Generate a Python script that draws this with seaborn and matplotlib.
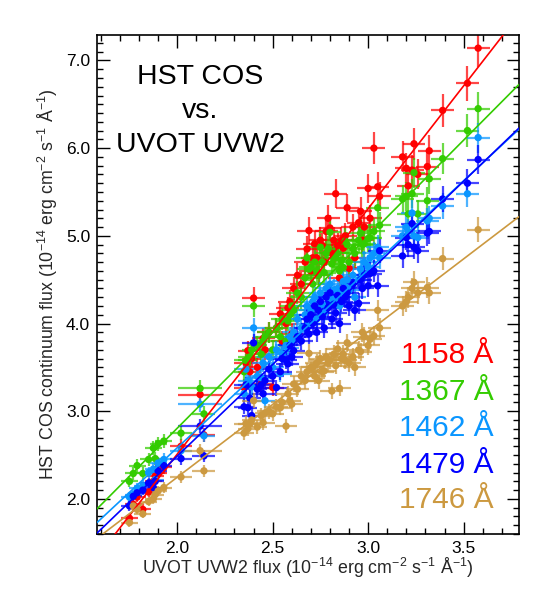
import numpy as np
import pandas as pd
import matplotlib
matplotlib.use("Agg")
import matplotlib.pyplot as plt
import seaborn as sns
from matplotlib.ticker import MultipleLocator, FormatStrFormatter

# ---- data ----
uvw2 = [1.75, 1.77, 1.79, 1.82, 1.85, 1.875, 1.885, 1.90, 1.93, 2.02, 2.12, 2.14,
        2.35, 2.36, 2.37, 2.38, 2.39, 2.40, 2.42, 2.44, 2.45, 2.46, 2.48, 2.50,
        2.52, 2.54, 2.55, 2.57, 2.58, 2.59, 2.60, 2.61, 2.63, 2.65, 2.67, 2.68,
        2.69, 2.70, 2.71, 2.72, 2.73, 2.74, 2.75, 2.76, 2.77, 2.78, 2.79, 2.80,
        2.81, 2.82, 2.83, 2.84, 2.85, 2.86, 2.87, 2.88, 2.89, 2.90, 2.92, 2.93,
        2.95, 2.96, 2.97, 2.98, 3.00, 3.01, 3.03, 3.05, 3.06, 3.18, 3.20, 3.21,
        3.23, 3.24, 3.26, 3.31, 3.32, 3.39, 3.52, 3.576]
uvw2_err = [0.045, 0.045, 0.045, 0.045, 0.045, 0.045, 0.045, 0.045, 0.045, 0.06, 0.115, 0.06,
            0.05, 0.06, 0.05, 0.06, 0.05, 0.06, 0.05, 0.06, 0.06, 0.05, 0.06, 0.06,
            0.06, 0.06, 0.06, 0.06, 0.06, 0.06, 0.06, 0.06, 0.06, 0.06, 0.06, 0.06,
            0.06, 0.06, 0.06, 0.06, 0.06, 0.06, 0.06, 0.06, 0.06, 0.06, 0.06, 0.06,
            0.06, 0.06, 0.06, 0.06, 0.06, 0.06, 0.06, 0.06, 0.06, 0.06, 0.06, 0.06,
            0.06, 0.06, 0.06, 0.06, 0.06, 0.06, 0.06, 0.06, 0.06, 0.06, 0.06, 0.06,
            0.06, 0.06, 0.06, 0.06, 0.06, 0.06, 0.06, 0.06]

flux_1158 = [1.78, 1.94, 2.02, 1.88, 2.08, 2.20, 2.26, 2.30, 2.36, 2.60, 3.19, 2.73,
             3.27, 3.55, 3.69, 3.45, 3.60, 4.29, 3.50, 3.31, 3.83, 3.70, 3.90, 3.27,
             3.95, 4.11, 3.80, 4.00, 4.18, 4.25, 3.88, 4.40, 4.55, 4.45, 4.70, 4.85,
             5.06, 4.60, 4.75, 4.91, 4.75, 4.55, 4.95, 4.89, 4.70, 5.05, 5.20, 5.09,
             4.80, 4.95, 5.48, 4.89, 4.52, 4.95, 4.86, 5.00, 5.32, 4.63, 5.10, 4.75,
             5.15, 5.28, 4.95, 5.10, 5.54, 5.20, 6.00, 5.56, 5.45, 5.90, 5.77, 5.57,
             5.75, 6.05, 5.70, 5.79, 5.97, 6.43, 6.74, 7.14]
flux_1367 = [2.20, 2.29, 2.38, 2.29, 2.45, 2.58, 2.46, 2.63, 2.66, 2.75, 3.26, 2.97,
             3.45, 3.58, 3.58, 3.62, 3.70, 4.20, 3.75, 3.65, 3.80, 3.85, 3.90, 3.70,
             3.95, 3.85, 4.05, 3.80, 4.03, 4.10, 4.20, 4.15, 4.35, 4.30, 4.52, 4.75,
             4.62, 4.64, 4.45, 4.70, 4.60, 4.55, 4.87, 4.70, 4.58, 4.80, 4.85, 5.04,
             4.68, 4.75, 4.75, 4.80, 4.60, 4.72, 4.64, 4.94, 4.90, 4.70, 4.85, 4.80,
             4.95, 5.03, 4.90, 4.91, 4.97, 4.98, 5.05, 5.32, 5.12, 5.42, 5.45, 5.25,
             5.48, 5.72, 5.25, 5.40, 5.65, 5.88, 6.20, 6.45]
flux_1462 = [2.02, 2.05, 2.12, 2.15, 2.30, 2.34, 2.22, 2.41, 2.45, 2.55, 3.08, 2.72,
             3.20, 3.48, 3.35, 3.30, 3.28, 3.95, 3.40, 3.38, 3.55, 3.12, 3.62, 3.50,
             3.70, 3.43, 3.65, 3.75, 3.72, 3.85, 3.80, 3.90, 4.05, 3.95, 4.10, 4.20,
             4.00, 4.15, 4.25, 4.30, 4.05, 4.18, 4.35, 4.22, 4.12, 4.40, 4.30, 4.45,
             4.28, 4.38, 4.25, 4.40, 4.20, 4.35, 4.48, 4.42, 4.50, 4.38, 4.55, 4.30,
             4.50, 4.62, 4.55, 4.70, 4.65, 4.75, 4.80, 4.87, 4.75, 5.00, 5.10, 5.05,
             5.26, 5.00, 4.98, 5.17, 5.20, 5.34, 5.48, 6.12]
flux_1479 = [1.92, 2.03, 2.07, 2.10, 2.18, 2.13, 2.20, 2.32, 2.38, 2.46, 2.83, 2.49,
             3.05, 3.30, 3.04, 3.15, 2.95, 3.78, 3.25, 3.30, 3.20, 3.35, 3.48, 3.40,
             3.27, 3.45, 3.60, 3.58, 3.54, 3.75, 3.62, 3.69, 3.85, 3.80, 3.95, 4.05,
             3.88, 4.10, 4.00, 4.20, 3.90, 4.15, 4.25, 4.08, 3.95, 4.30, 4.18, 4.35,
             4.05, 4.22, 4.12, 4.32, 4.00, 4.25, 4.40, 4.30, 4.35, 4.20, 4.45, 4.15,
             4.23, 4.50, 4.40, 4.55, 4.43, 4.57, 4.60, 4.43, 4.83, 4.77, 4.98, 4.90,
             5.14, 4.87, 4.83, 5.03, 5.05, 5.42, 5.60, 5.87]
flux_1746 = [1.73, 1.92, 1.88, 1.83, 1.97, 2.00, 2.05, 2.09, 2.13, 2.25, 2.55, 2.32,
             2.75, 2.86, 2.80, 2.86, 2.90, 3.12, 2.82, 2.95, 2.87, 2.98, 3.00, 2.97,
             3.05, 3.04, 3.10, 2.83, 3.20, 3.12, 3.08, 3.31, 3.25, 3.40, 3.35, 3.45,
             3.66, 3.50, 3.50, 3.40, 3.55, 3.35, 3.60, 3.45, 3.46, 3.62, 3.55, 3.58,
             3.23, 3.65, 3.52, 3.71, 3.26, 3.60, 3.65, 3.58, 3.78, 3.55, 3.62, 3.50,
             3.70, 3.68, 3.90, 3.85, 3.75, 3.82, 3.86, 4.15, 3.95, 4.20, 4.25, 4.30,
             4.40, 4.47, 4.35, 4.41, 4.35, 4.74, np.nan, 5.07]

bands = ["1158 Å", "1367 Å", "1462 Å", "1479 Å", "1746 Å"]
band_colors = ["#ff0000", "#33cc00", "#0a96ff", "#0000ff", "#cc9940"]
band_frac_err = [0.03, 0.03, 0.028, 0.028, 0.028]
fit_slope = [2.80, 2.19, 2.03, 2.09, 1.66]
fit_intercept = [-3.09, -1.574, -1.477, -1.692, -1.073]

series = [flux_1158, flux_1367, flux_1462, flux_1479, flux_1746]
frames = []
for b, ys in zip(bands, series):
    frames.append(pd.DataFrame({"uvw2": uvw2, "uvw2_err": uvw2_err,
                                "flux": ys, "band": b}))
df = pd.concat(frames, ignore_index=True)

# ---- style ----
sns.set_theme(style="ticks")
plt.rcParams["font.family"] = ["Liberation Sans", "DejaVu Sans"]
plt.rcParams["mathtext.fontset"] = "custom"
plt.rcParams["mathtext.rm"] = "Liberation Sans"
plt.rcParams["mathtext.default"] = "regular"

fig = plt.figure(figsize=(5.5, 6), dpi=100)
ax = fig.add_axes([97 / 550, 1 - 534 / 600, 422 / 550, 499 / 600])

xlim = (1.58, 3.79)
ylim = (1.6, 7.29)

for b, c, fe in zip(bands, band_colors, band_frac_err):
    sub = df[df["band"] == b]
    ax.errorbar(sub["uvw2"], sub["flux"], xerr=sub["uvw2_err"],
                yerr=sub["flux"] * fe, fmt="none", ecolor=c, elinewidth=1.6,
                alpha=0.72, capsize=0, zorder=2)
    sns.scatterplot(data=sub, x="uvw2", y="flux", color=c, s=28,
                    edgecolor="none", ax=ax, zorder=3, legend=False)

xs = np.array(xlim)
for c, m, k in zip(band_colors, fit_slope, fit_intercept):
    sns.lineplot(x=xs, y=m * xs + k, color=c, lw=1.2, ax=ax, zorder=4)

ax.set_xlim(*xlim)
ax.set_ylim(*ylim)
ax.xaxis.set_major_locator(MultipleLocator(0.5))
ax.xaxis.set_minor_locator(MultipleLocator(0.1))
ax.yaxis.set_major_locator(MultipleLocator(1.0))
ax.yaxis.set_minor_locator(MultipleLocator(0.1))
ax.xaxis.set_major_formatter(FormatStrFormatter("%.1f"))
ax.yaxis.set_major_formatter(FormatStrFormatter("%.1f"))
ax.tick_params(which="both", direction="in", top=True, right=True,
               colors="black", width=1.0, labelsize=12.5)
ax.tick_params(which="major", length=9, pad=5)
ax.tick_params(which="minor", length=4.5)
for s in ax.spines.values():
    s.set_color("black")
    s.set_linewidth(1.2)

ax.set_xlabel("UVOT UVW2 flux (10$^{-14}$ erg cm$^{-2}$ s$^{-1}$ Å$^{-1}$)",
              fontsize=12.8, labelpad=0)
ax.set_ylabel("HST COS continuum flux (10$^{-14}$ erg cm$^{-2}$ s$^{-1}$ Å$^{-1}$)",
              fontsize=12.8, labelpad=4)

for txt, yy in zip(["HST COS", "vs.", "UVOT UVW2"], [0.916, 0.848, 0.780]):
    ax.text(0.244, yy, txt, transform=ax.transAxes, ha="center", va="center",
            fontsize=20.5, color="black")

for b, c, yy in zip(bands, band_colors, [0.359, 0.285, 0.212, 0.138, 0.068]):
    ax.text(0.94, yy, b, transform=ax.transAxes, ha="right", va="center",
            fontsize=21.5, color=c)

fig.savefig("out.png", dpi=100, facecolor="white")
